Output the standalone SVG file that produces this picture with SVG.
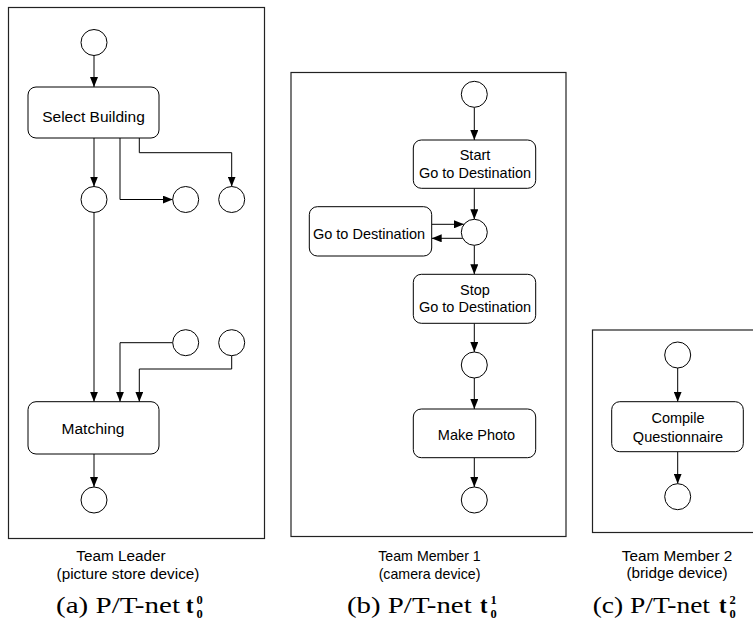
<svg xmlns="http://www.w3.org/2000/svg" width="753" height="621" viewBox="0 0 753 621">
<style>
.frame{fill:none;stroke:#222;stroke-width:1.2}
.place{fill:#fff;stroke:#000;stroke-width:1}
.trans{fill:#fff;stroke:#000;stroke-width:1}
.lbl{font-family:"Liberation Sans",Arial,sans-serif;font-size:14.5px;fill:#000;text-anchor:middle}
.lblA{font-size:15.5px}
.cap{font-family:"Liberation Sans",Arial,sans-serif;font-size:14.2px;fill:#000;text-anchor:middle}
.capL{font-size:15.3px}
.sub{font-family:"Liberation Serif","Times New Roman",serif;font-size:22.5px;fill:#000}
.subb{font-family:"Liberation Serif","Times New Roman",serif;font-size:22.5px;font-weight:bold;fill:#000}
.idx{font-family:"Liberation Serif","Times New Roman",serif;font-size:12.5px;font-weight:bold;fill:#000}
.arc{fill:none;stroke:#000;stroke-width:1}
</style>
<defs>
<marker id="ah" viewBox="0 0 10 8" refX="10" refY="4" markerWidth="10" markerHeight="8" markerUnits="userSpaceOnUse" orient="auto">
<path d="M0,0 L10,4 L0,8 z" fill="#000"/>
</marker>
</defs>
<rect id="frame-a" class="frame" x="8.5" y="7.5" width="256" height="531"/>
<rect id="frame-b" class="frame" x="291" y="72.5" width="275" height="464"/>
<rect id="frame-c" class="frame" x="592.5" y="330" width="180" height="202.5"/>
<g id="connectors">
<path class="arc" marker-end="url(#ah)" d="M94,55.5 V87"/>
<path class="arc" marker-end="url(#ah)" d="M94,138 V186.5"/>
<path class="arc" marker-end="url(#ah)" d="M120,138 V199.5 H172.7"/>
<path class="arc" marker-end="url(#ah)" d="M139.3,138 V152.7 H231.7 V186.5"/>
<path class="arc" marker-end="url(#ah)" d="M94,212.5 V401.7"/>
<path class="arc" marker-end="url(#ah)" d="M172.7,342.7 H120 V401.7"/>
<path class="arc" marker-end="url(#ah)" d="M231.7,355.7 V369 H139.3 V401.7"/>
<path class="arc" marker-end="url(#ah)" d="M94,454 V487"/>
<path class="arc" marker-end="url(#ah)" d="M474.3,107.3 V140"/>
<path class="arc" marker-end="url(#ah)" d="M474.3,188.3 V219.3"/>
<path class="arc" marker-end="url(#ah)" d="M431.7,224.3 H464"/>
<path class="arc" marker-end="url(#ah)" d="M462.8,238.3 H431.7"/>
<path class="arc" marker-end="url(#ah)" d="M474.3,245.3 V274.3"/>
<path class="arc" marker-end="url(#ah)" d="M474.3,323.3 V352"/>
<path class="arc" marker-end="url(#ah)" d="M474.3,378 V409"/>
<path class="arc" marker-end="url(#ah)" d="M474.3,457.7 V487"/>
<path class="arc" marker-end="url(#ah)" d="M677.7,368 V401.7"/>
<path class="arc" marker-end="url(#ah)" d="M677.7,451.7 V483.7"/>
</g>
<g id="a-p1"><circle class="place" cx="94" cy="42.5" r="13"/></g>
<g id="a-select"><rect class="trans" x="28" y="87" width="131" height="51" rx="8"/><text class="lbl lblA" x="93.5" y="121.5">Select Building</text></g>
<g id="a-p2"><circle class="place" cx="94" cy="199.5" r="13"/></g>
<g id="a-p3"><circle class="place" cx="185.7" cy="199.5" r="13"/></g>
<g id="a-p4"><circle class="place" cx="231.7" cy="199.5" r="13"/></g>
<g id="a-p5"><circle class="place" cx="185.7" cy="342.7" r="13"/></g>
<g id="a-p6"><circle class="place" cx="231.7" cy="342.7" r="13"/></g>
<g id="a-matching"><rect class="trans" x="28" y="401.7" width="131" height="52.3" rx="8"/><text class="lbl lblA" x="93" y="434">Matching</text></g>
<g id="a-p7"><circle class="place" cx="94" cy="500" r="13"/></g>
<g id="b-p1"><circle class="place" cx="474.3" cy="94.3" r="13"/></g>
<g id="b-start"><rect class="trans" x="413.3" y="140" width="122.4" height="48.3" rx="8"/><text class="lbl" x="475" y="160">Start</text><text class="lbl" x="475" y="177.5">Go to Destination</text></g>
<g id="b-p2"><circle class="place" cx="474.3" cy="232.3" r="13"/></g>
<g id="b-goto"><rect class="trans" x="309.3" y="206.7" width="122.4" height="49.3" rx="8"/><text class="lbl" x="369" y="238.5">Go to Destination</text></g>
<g id="b-stop"><rect class="trans" x="413.3" y="274.3" width="122.4" height="49" rx="8"/><text class="lbl" x="475" y="294.5">Stop</text><text class="lbl" x="475" y="312">Go to Destination</text></g>
<g id="b-p3"><circle class="place" cx="474.3" cy="365" r="13"/></g>
<g id="b-photo"><rect class="trans" x="413.3" y="409" width="122.4" height="48.7" rx="8"/><text class="lbl" x="476.5" y="440">Make Photo</text></g>
<g id="b-p4"><circle class="place" cx="474.3" cy="500" r="13"/></g>
<g id="c-p1"><circle class="place" cx="677.7" cy="355" r="13"/></g>
<g id="c-compile"><rect class="trans" x="611.7" y="401.7" width="131.6" height="50" rx="8"/><text class="lbl" x="678" y="422.5">Compile</text><text class="lbl" x="678" y="442">Questionnaire</text></g>
<g id="c-p2"><circle class="place" cx="677.7" cy="496.7" r="13"/></g>
<g id="captions">
<text class="cap capL" x="121" y="561">Team Leader</text>
<text class="cap capL" x="128" y="579">(picture store device)</text>
<text class="cap" x="429.5" y="561">Team Member 1</text>
<text class="cap" x="429.5" y="578.5">(camera device)</text>
<text class="cap capL" x="677" y="560.5">Team Member 2</text>
<text class="cap capL" x="677" y="578">(bridge device)</text>
<text class="sub" x="56" y="613" textLength="124" lengthAdjust="spacingAndGlyphs">(a) P/T-net</text>
<text class="subb" x="186" y="613">t</text>
<text class="idx" x="196.5" y="604">0</text>
<text class="idx" x="196.5" y="618">0</text>
<text class="sub" x="347" y="613" textLength="124.7" lengthAdjust="spacingAndGlyphs">(b) P/T-net</text>
<text class="subb" x="480" y="613">t</text>
<text class="idx" x="490.5" y="604">1</text>
<text class="idx" x="490.5" y="618">0</text>
<text class="sub" x="592.7" y="613" textLength="117.3" lengthAdjust="spacingAndGlyphs">(c) P/T-net</text>
<text class="subb" x="719" y="613">t</text>
<text class="idx" x="729.5" y="604">2</text>
<text class="idx" x="729.5" y="618">0</text>
</g>
</svg>
